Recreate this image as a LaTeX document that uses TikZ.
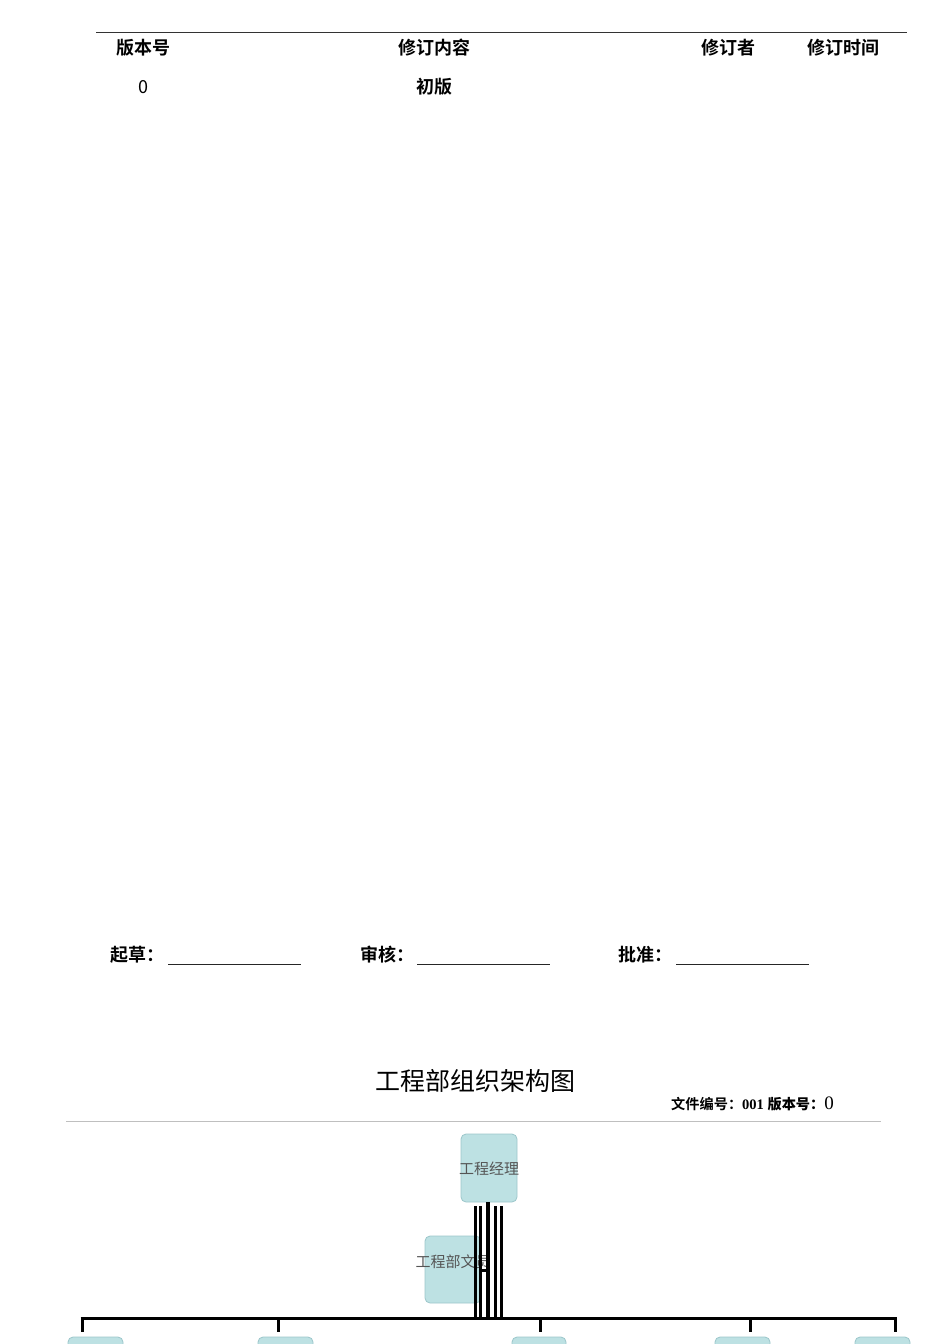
\documentclass[tikz,border=0pt]{standalone}
\usepackage{fontspec}
\setmainfont{Liberation Serif}
\newfontfamily\cjk{Noto Sans CJK SC}
\newfontfamily\cjkb{Noto Sans CJK SC Bold}
\definecolor{boxfill}{HTML}{BDE1E3}
\definecolor{boxline}{HTML}{9CC6CA}
\definecolor{boxtext}{HTML}{555555}
\tikzset{
  hdr/.style={font=\cjkb\fontsize{18}{18}\selectfont, inner sep=0pt, anchor=center},
  sig/.style={font=\cjkb\fontsize{18}{18}\selectfont, inner sep=0pt, anchor=west},
  orgbox/.style={draw=boxline, fill=boxfill, rounded corners=5pt, line width=0.8pt},
  orgtext/.style={font=\cjk\fontsize{15}{15}\selectfont, text=boxtext, inner sep=0pt},
  conn/.style={line width=3pt, black},
  sline/.style={line width=0.9pt, black!85},
}
\begin{document}
\begin{tikzpicture}[x=1pt, y=-1pt]
\useasboundingbox (0,0) rectangle (950,1344);
\clip (0,0) rectangle (950,1344);
% revision table
\coordinate (tl) at (96,32);
\coordinate (tr) at (907,32);
\draw[line width=0.8pt, black!80] (tl) -- (tr);
\node[hdr] (h1) at (143,48) {版本号};
\node[hdr] (h2) at (434,48) {修订内容};
\node[hdr] (h3) at (728,48) {修订者};
\node[hdr] (h4) at (843,48) {修订时间};
\node[hdr, font=\cjk\fontsize{18}{18}\selectfont] (r1) at (143,87) {0};
\node[hdr] (r2) at (434,87) {初版};
% signatures
\node[sig] (s1) at (110,955) {起草：};
\node[sig] (s2) at (360,955) {审核：};
\node[sig] (s3) at (618,955) {批准：};
\coordinate (u1a) at (168,964); \coordinate (u1b) at (301,964);
\coordinate (u2a) at (417,964); \coordinate (u2b) at (550,964);
\coordinate (u3a) at (676,964); \coordinate (u3b) at (809,964);
\draw[sline] (u1a) -- (u1b);
\draw[sline] (u2a) -- (u2b);
\draw[sline] (u3a) -- (u3b);
% title
\node[inner sep=0pt, font=\cjk\fontsize{25}{25}\selectfont] (title) at (475,1081) {工程部组织架构图};
\node[inner sep=0pt, anchor=west] (fileno) at (671,1104) {\cjkb\fontsize{14.2}{14}\selectfont 文件编号：\normalfont\bfseries\fontsize{14.5}{14}\selectfont 001 \cjkb\fontsize{14.2}{14}\selectfont 版本号：\normalfont\fontsize{19}{19}\selectfont 0};
\coordinate (gl) at (66,1121);
\coordinate (gr) at (881,1121);
\draw[line width=0.8pt, black!25] (gl) -- (gr);
% org chart boxes
\draw[orgbox] (461,1134) rectangle (517,1202);
\node[orgtext] (mgr) at (489,1169) {工程经理};
\draw[orgbox] (425,1236) rectangle (481,1303);
\node[orgtext] (clerk) at (453,1262) {工程部文员};
% bottom boxes (cut by page)
\draw[orgbox] (68,1337) rectangle (123,1370);
\draw[orgbox] (258,1337) rectangle (313,1370);
\draw[orgbox] (512,1337) rectangle (566,1370);
\draw[orgbox] (715,1337) rectangle (770,1370);
\draw[orgbox] (855,1337) rectangle (910,1370);
% connectors
\coordinate (v1t) at (475.5,1206); \coordinate (v1b) at (475.5,1318);
\coordinate (v2t) at (480,1206); \coordinate (v2b) at (480,1318);
\coordinate (v3t) at (488,1202); \coordinate (v3b) at (488,1318);
\coordinate (v4t) at (495,1206); \coordinate (v4b) at (495,1318);
\coordinate (v5t) at (501.5,1206); \coordinate (v5b) at (501.5,1318);
\draw[conn] (v1t) -- (v1b);
\draw[conn] (v2t) -- (v2b);
\draw[line width=4pt] (v3t) -- (v3b);
\draw[conn] (v4t) -- (v4b);
\draw[conn] (v5t) -- (v5b);
\coordinate (hk1) at (481,1270); \coordinate (hk2) at (488,1270);
\draw[conn] (hk1) -- (hk2);
\coordinate (hl) at (80.5,1318); \coordinate (hr) at (896.5,1318);
\draw[conn] (hl) -- (hr);
\foreach \x in {82,278,540,750,895}{
  \draw[conn] (\x,1317) -- (\x,1332);
}
\end{tikzpicture}
\end{document}
